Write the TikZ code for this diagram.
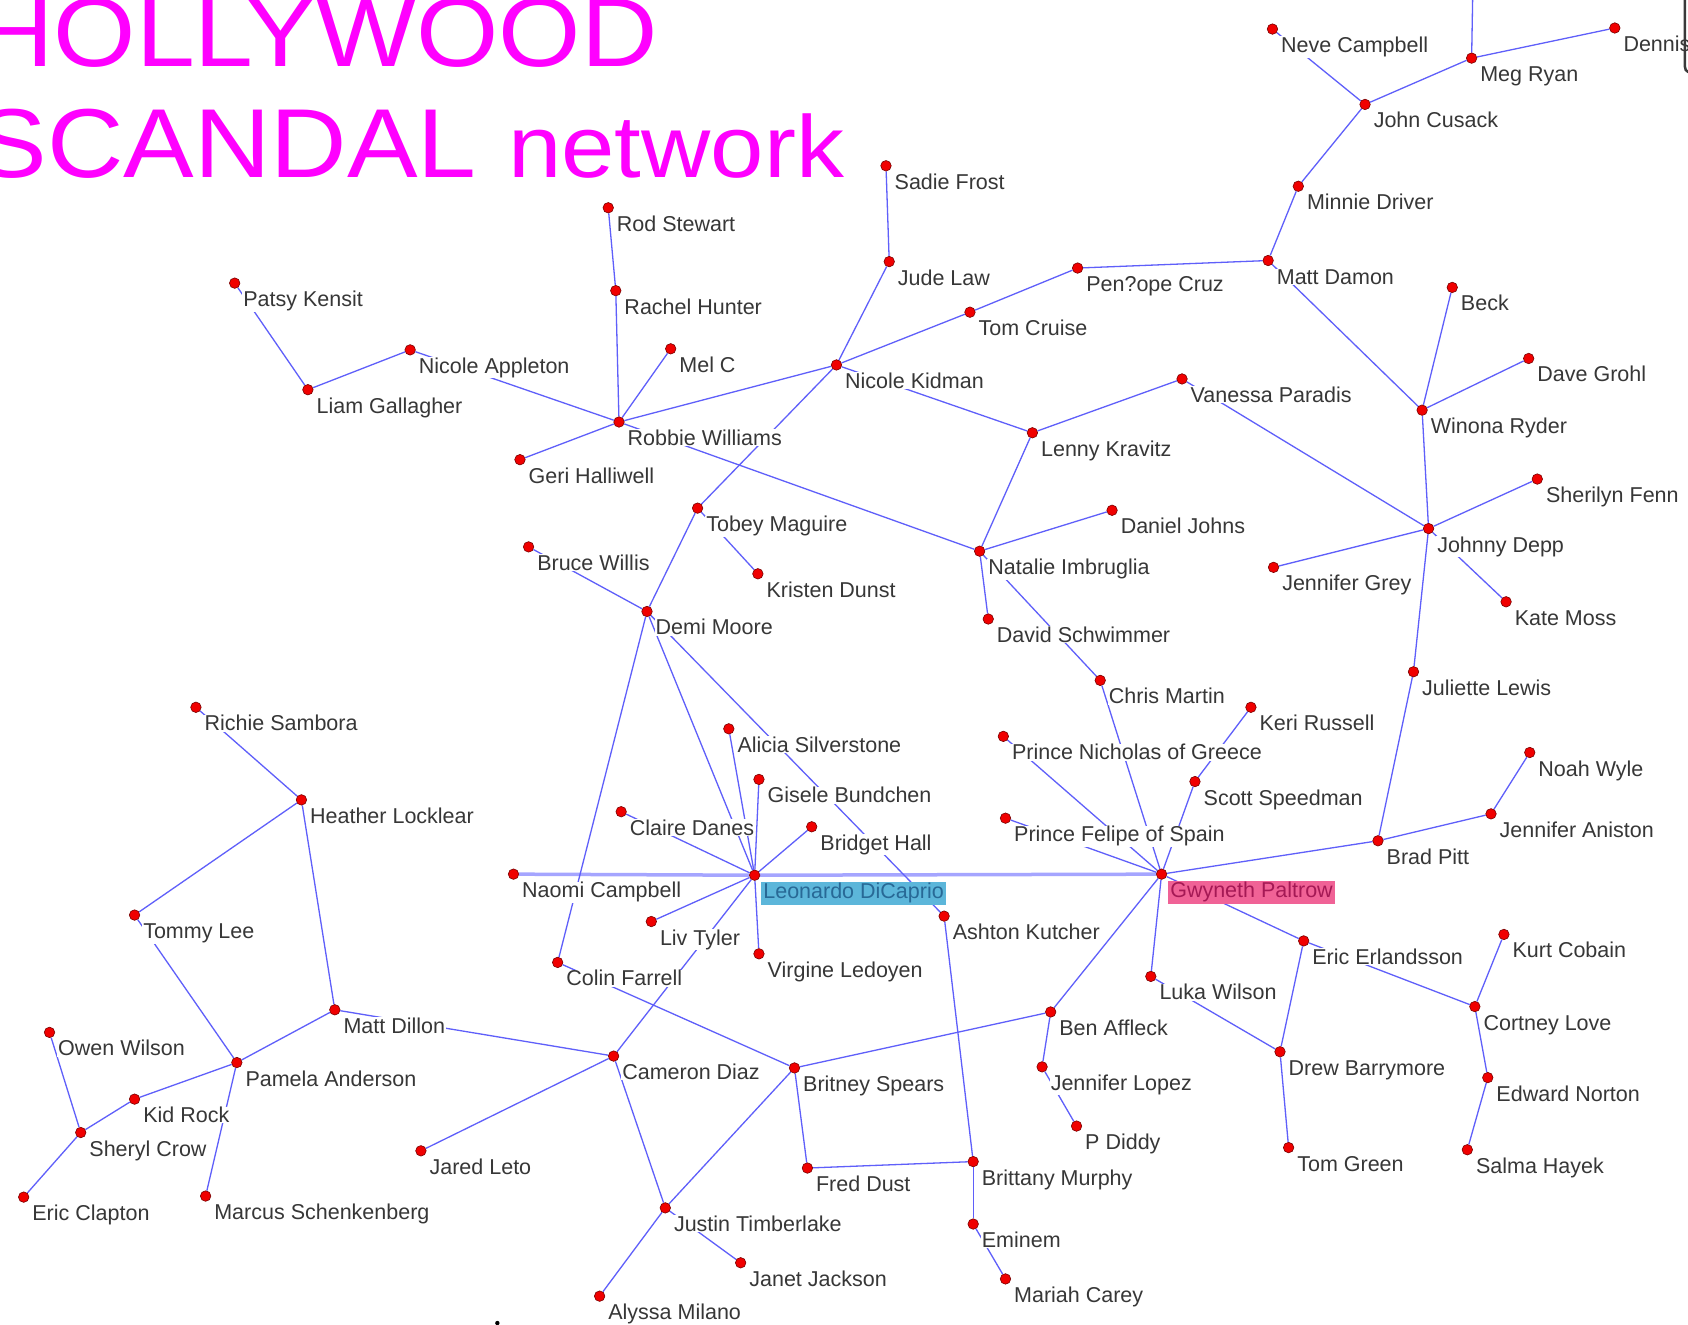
\documentclass[tikz,border=0pt]{standalone}
\usepackage{fontspec}
\setmainfont{Liberation Sans}
\usetikzlibrary{backgrounds}

\definecolor{edgeblue}{RGB}{95,95,250}
\definecolor{tieblue}{RGB}{165,165,255}
\definecolor{labtext}{RGB}{55,55,55}
\definecolor{dotred}{RGB}{240,0,0}
\definecolor{dotrim}{RGB}{120,0,0}
\definecolor{headline}{RGB}{255,0,255}
\definecolor{leobox}{RGB}{92,182,218}
\definecolor{leotext}{RGB}{40,105,150}
\definecolor{gwybox}{RGB}{240,98,150}
\definecolor{gwytext}{RGB}{165,25,85}

% one person: a red dot and its name below right of it
\newcommand\who[5][]{%
  \node[person] (#2) at (#3,#4) {};
  \node[lab,#1] (#2-t) at (#2) {#5};}

\begin{document}
\begin{tikzpicture}[x=1.0765pt, y=-1.0765pt,
  person/.style={circle, fill=dotred, draw=dotrim, line width=0.6pt,
    minimum size=10.5pt, inner sep=0pt},
  lab/.style={anchor=base west, xshift=7.5pt, yshift=-23.5pt, fill=white,
    inner xsep=1pt, inner ysep=0.5pt, text=labtext,
    font=\fontsize{21.5}{24}\selectfont},
  link/.style={draw=edgeblue, line width=1.3pt},
  tie/.style={draw=tieblue, line width=3.5pt},
  headline/.style={text=headline, inner sep=0pt},
]
\useasboundingbox (0,0) rectangle (1568,1230);

% title
\node[headline, anchor=base east, font=\fontsize{98}{100}\selectfont]
  (title1) at (611,62) {\scalebox{1.08}[1]{HOLLYWOOD}};
\node[headline, anchor=base east, font=\fontsize{98}{100}\selectfont]
  (title2) at (443,165) {\scalebox{1.08}[1]{SCANDAL}};
\node[headline, anchor=base west, font=\fontsize{88}{90}\selectfont]
  (title3) at (472,165) {\scalebox{1.09}[1]{network}};

% people
\who{nevec}{1182}{27}{Neve Campbell}
\who{megr}{1367}{54}{Meg Ryan}
\who{dennis}{1500}{26}{Dennis}
\who{johnc}{1268}{97}{John Cusack}
\who{minnie}{1206}{173}{Minnie Driver}
\who{mattda}{1178}{242}{Matt Damon}
\who{penel}{1001}{249}{Pen?ope Cruz}
\who{tomcr}{901}{290}{Tom Cruise}
\who{sadie}{823}{154}{Sadie Frost}
\who{jude}{826}{243}{Jude Law}
\who{kidman}{777}{339}{Nicole Kidman}
\who{rods}{565}{193}{Rod Stewart}
\who{rachel}{572}{270}{Rachel Hunter}
\who{melc}{623}{324}{Mel C}
\who{robbie}{575}{392}{Robbie Williams}
\who{patsy}{218}{263}{Patsy Kensit}
\who{liam}{286}{362}{Liam Gallagher}
\who{appleton}{381}{325}{Nicole Appleton}
\who{geri}{483}{427}{Geri Halliwell}
\who{beck}{1349}{267}{Beck}
\who{grohl}{1420}{333}{Dave Grohl}
\who{winona}{1321}{381}{Winona Ryder}
\who{vanessa}{1098}{352}{Vanessa Paradis}
\who{lenny}{959}{402}{Lenny Kravitz}
\who{sherilyn}{1428}{445}{Sherilyn Fenn}
\who{depp}{1327}{491}{Johnny Depp}
\who{grey}{1183}{527}{Jennifer Grey}
\who{kate}{1399}{559}{Kate Moss}
\who{djohns}{1033}{474}{Daniel Johns}
\who{natalie}{910}{512}{Natalie Imbruglia}
\who{schwim}{918}{575}{David Schwimmer}
\who{tobey}{648}{472}{Tobey Maguire}
\who{kirsten}{704}{533}{Kristen Dunst}
\who{bruce}{491}{508}{Bruce Willis}
\who{demi}{601}{568}{Demi Moore}
\who{juliette}{1313}{624}{Juliette Lewis}
\who{chris}{1022}{632}{Chris Martin}
\who{keri}{1162}{657}{Keri Russell}
\who{nicholas}{932}{684}{Prince Nicholas of Greece}
\who{scott}{1110}{726}{Scott Speedman}
\who{felipe}{934}{760}{Prince Felipe of Spain}
\who[fill=gwybox, text=gwytext, inner xsep=2.5pt, inner ysep=1.5pt, xshift=-1.5pt]{gwyneth}{1079}{812}{Gwyneth Paltrow}
\who{noah}{1421}{699}{Noah Wyle}
\who{aniston}{1385}{756}{Jennifer Aniston}
\who{brad}{1280}{781}{Brad Pitt}
\who{richie}{182}{657}{Richie Sambora}
\who{heather}{280}{743}{Heather Locklear}
\who{alicia}{677}{677}{Alicia Silverstone}
\who{gisele}{705}{724}{Gisele Bundchen}
\who{claire}{577}{754}{Claire Danes}
\who{bridget}{754}{768}{Bridget Hall}
\who[fill=leobox, text=leotext, inner xsep=2.5pt, inner ysep=1.5pt, xshift=-1.5pt]{leo}{701}{813}{Leonardo DiCaprio}
\who{naomi}{477}{812}{Naomi Campbell}
\who{tommy}{125}{850}{Tommy Lee}
\who{liv}{605}{856}{Liv Tyler}
\who{virgine}{705}{886}{Virgine Ledoyen}
\who{colin}{518}{894}{Colin Farrell}
\who{ashton}{877}{851}{Ashton Kutcher}
\who{eric}{1211}{874}{Eric Erlandsson}
\who{kurt}{1397}{868}{Kurt Cobain}
\who{cortney}{1370}{935}{Cortney Love}
\who{luka}{1069}{907}{Luka Wilson}
\who{ben}{976}{940}{Ben Affleck}
\who{jlo}{968}{991}{Jennifer Lopez}
\who{diddy}{1000}{1046}{P Diddy}
\who{drew}{1189}{977}{Drew Barrymore}
\who{norton}{1382}{1001}{Edward Norton}
\who{salma}{1363}{1068}{Salma Hayek}
\who{tomg}{1197}{1066}{Tom Green}
\who{dillon}{311}{938}{Matt Dillon}
\who{owen}{46}{959}{Owen Wilson}
\who{pamela}{220}{987}{Pamela Anderson}
\who{kidrock}{125}{1021}{Kid Rock}
\who{sheryl}{75}{1052}{Sheryl Crow}
\who{clapton}{22}{1112}{Eric Clapton}
\who{marcus}{191}{1111}{Marcus Schenkenberg}
\who{cameron}{570}{981}{Cameron Diaz}
\who{jared}{391}{1069}{Jared Leto}
\who{britney}{738}{992}{Britney Spears}
\who{fred}{750}{1085}{Fred Dust}
\who{brittany}{904}{1079}{Brittany Murphy}
\who{justin}{618}{1122}{Justin Timberlake}
\who{janet}{688}{1173}{Janet Jackson}
\who{alyssa}{557}{1204}{Alyssa Milano}
\who{eminem}{904}{1137}{Eminem}
\who{mariah}{934}{1188}{Mariah Carey}

\coordinate (megtop) at (1368,-4);

% frame edge in the top right corner and mark at the bottom
\draw[gray!45!black, line width=2.5pt] (1565,-3) -- (1565,56)
  .. controls (1565,66) .. (1572,68);
\fill[black] (462,1229) circle (2.2pt);

\begin{scope}[on background layer]
\fill[white] (0,0) rectangle (1568,1230);
% relationships
\draw[tie] (naomi) -- (leo) -- (gwyneth);
\foreach \a/\b in {
  nevec/johnc, johnc/megr, megr/dennis, megr/megtop, johnc/minnie,
  minnie/mattda, mattda/penel, penel/tomcr, tomcr/kidman, mattda/winona,
  sadie/jude, jude/kidman, kidman/robbie, kidman/lenny, kidman/tobey,
  robbie/rachel, rachel/rods, robbie/melc, robbie/appleton, robbie/geri,
  robbie/natalie, patsy/liam, liam/appleton, beck/winona, grohl/winona,
  winona/depp, vanessa/lenny, vanessa/depp, sherilyn/depp, grey/depp,
  kate/depp, depp/juliette, juliette/brad, lenny/natalie, natalie/djohns,
  natalie/schwim, natalie/chris, tobey/kirsten, tobey/demi, bruce/demi,
  demi/colin, demi/ashton, demi/leo, alicia/leo, gisele/leo, claire/leo,
  bridget/leo, leo/liv, leo/virgine, leo/cameron, colin/britney,
  dillon/cameron, cameron/jared, cameron/justin, britney/justin,
  justin/alyssa, justin/janet, britney/ben, britney/fred, fred/brittany,
  ashton/brittany, brittany/eminem, eminem/mariah, ben/gwyneth, ben/jlo,
  jlo/diddy, gwyneth/luka, luka/drew, gwyneth/eric, eric/drew, drew/tomg,
  eric/cortney, kurt/cortney, cortney/norton, norton/salma, gwyneth/brad,
  brad/aniston, aniston/noah, gwyneth/nicholas, gwyneth/felipe,
  gwyneth/chris, keri/scott, scott/gwyneth, heather/richie, heather/tommy,
  heather/dillon, tommy/pamela, dillon/pamela, pamela/kidrock,
  kidrock/sheryl, pamela/marcus, owen/sheryl, sheryl/clapton}
  \draw[link] (\a) -- (\b);
\end{scope}
\end{tikzpicture}
\end{document}
